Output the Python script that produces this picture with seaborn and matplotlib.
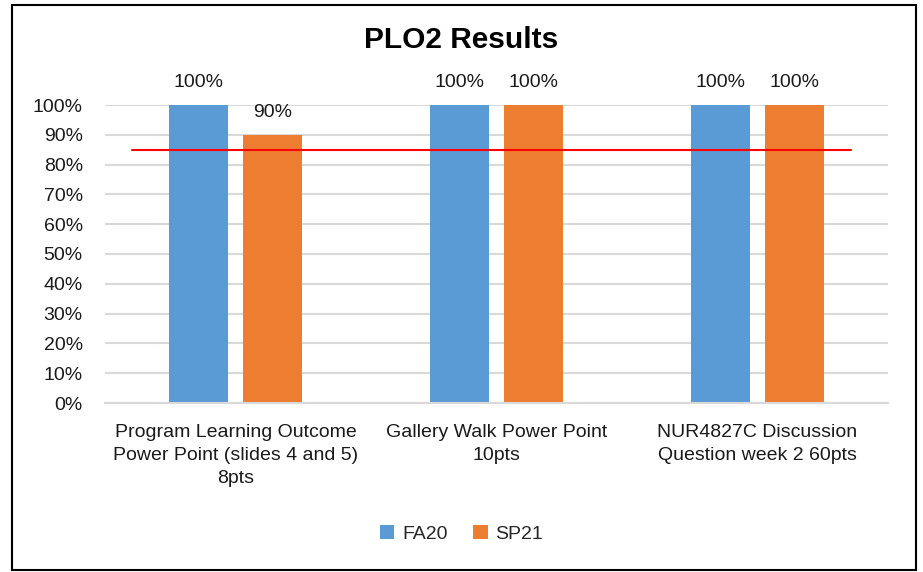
import matplotlib
matplotlib.use("Agg")
import matplotlib.pyplot as plt
import seaborn as sns
import pandas as pd
from matplotlib.patches import Rectangle

categories = ["Program Learning Outcome\nPower Point (slides 4 and 5)\n8pts",
              "Gallery Walk Power Point\n10pts",
              "NUR4827C Discussion\nQuestion week 2 60pts"]
series_names = ["FA20", "SP21"]
fa20 = [100, 100, 100]
sp21 = [90, 100, 100]
target = 85
yticks = [0, 10, 20, 30, 40, 50, 60, 70, 80, 90, 100]
title = "PLO2 Results"

df = pd.DataFrame({
    "cat": categories * 2,
    "term": [series_names[0]] * 3 + [series_names[1]] * 3,
    "val": fa20 + sp21,
})

sns.set_theme(style="white")
plt.rcParams["font.family"] = ["Liberation Sans", "DejaVu Sans"]

FS = 14
fig = plt.figure(figsize=(9.23, 5.72), dpi=100)
ax = fig.add_axes([105/923, 1-403/572, (888-105)/923, (403-105)/572])

sns.barplot(data=df, x="cat", y="val", hue="term", order=categories,
            hue_order=series_names, palette=["#5B9BD5", "#ED7D31"],
            width=0.57, gap=0.21, ax=ax, legend=True, saturation=1,
            edgecolor="none", linewidth=0)

for c in ax.containers:
    ax.bar_label(c, labels=[f"{int(v)}%" for v in c.datavalues], padding=10,
                 fontsize=FS, color="#1a1a1a")

ax.set_ylim(0, 100)
ax.set_xlim(-0.5, 2.5)
ax.set_yticks(yticks)
ax.set_yticklabels([f"{v}%" for v in yticks], fontsize=FS, color="#1a1a1a")
ax.tick_params(axis="y", length=0, pad=16)
ax.tick_params(axis="x", length=0, pad=15, labelsize=FS, labelcolor="#1a1a1a")
for lab in ax.get_xticklabels():
    lab.set_linespacing(1.45)
ax.yaxis.grid(True, color="#D9D9D9", linewidth=1.5)
ax.set_axisbelow(True)
for s in ["top", "right", "left"]:
    ax.spines[s].set_visible(False)
ax.spines["bottom"].set_color("#D9D9D9")
ax.spines["bottom"].set_linewidth(1.5)
ax.set_xlabel("")
ax.set_ylabel("")

ax.plot([-0.397, 2.358], [target, target], color="#FF0000", linewidth=1.5, zorder=5)

handles, labels = ax.get_legend_handles_labels()
ax.get_legend().remove()
fig.legend(handles, labels, loc="center", bbox_to_anchor=(0.5, 1-534/572), ncol=2,
           frameon=False, fontsize=FS, handlelength=0.75, handleheight=0.75,
           handletextpad=0.4, columnspacing=1.3)

fig.text(461/923, 1-40/572, title, ha="center", va="center", fontsize=21.5,
         fontweight="bold", color="#000000")

fig.patches.append(Rectangle((12/923, 1-570/572), (916-12)/923, (570-5)/572,
                             transform=fig.transFigure, fill=False,
                             edgecolor="#000000", linewidth=1.5))

fig.savefig("out.png", dpi=100)
